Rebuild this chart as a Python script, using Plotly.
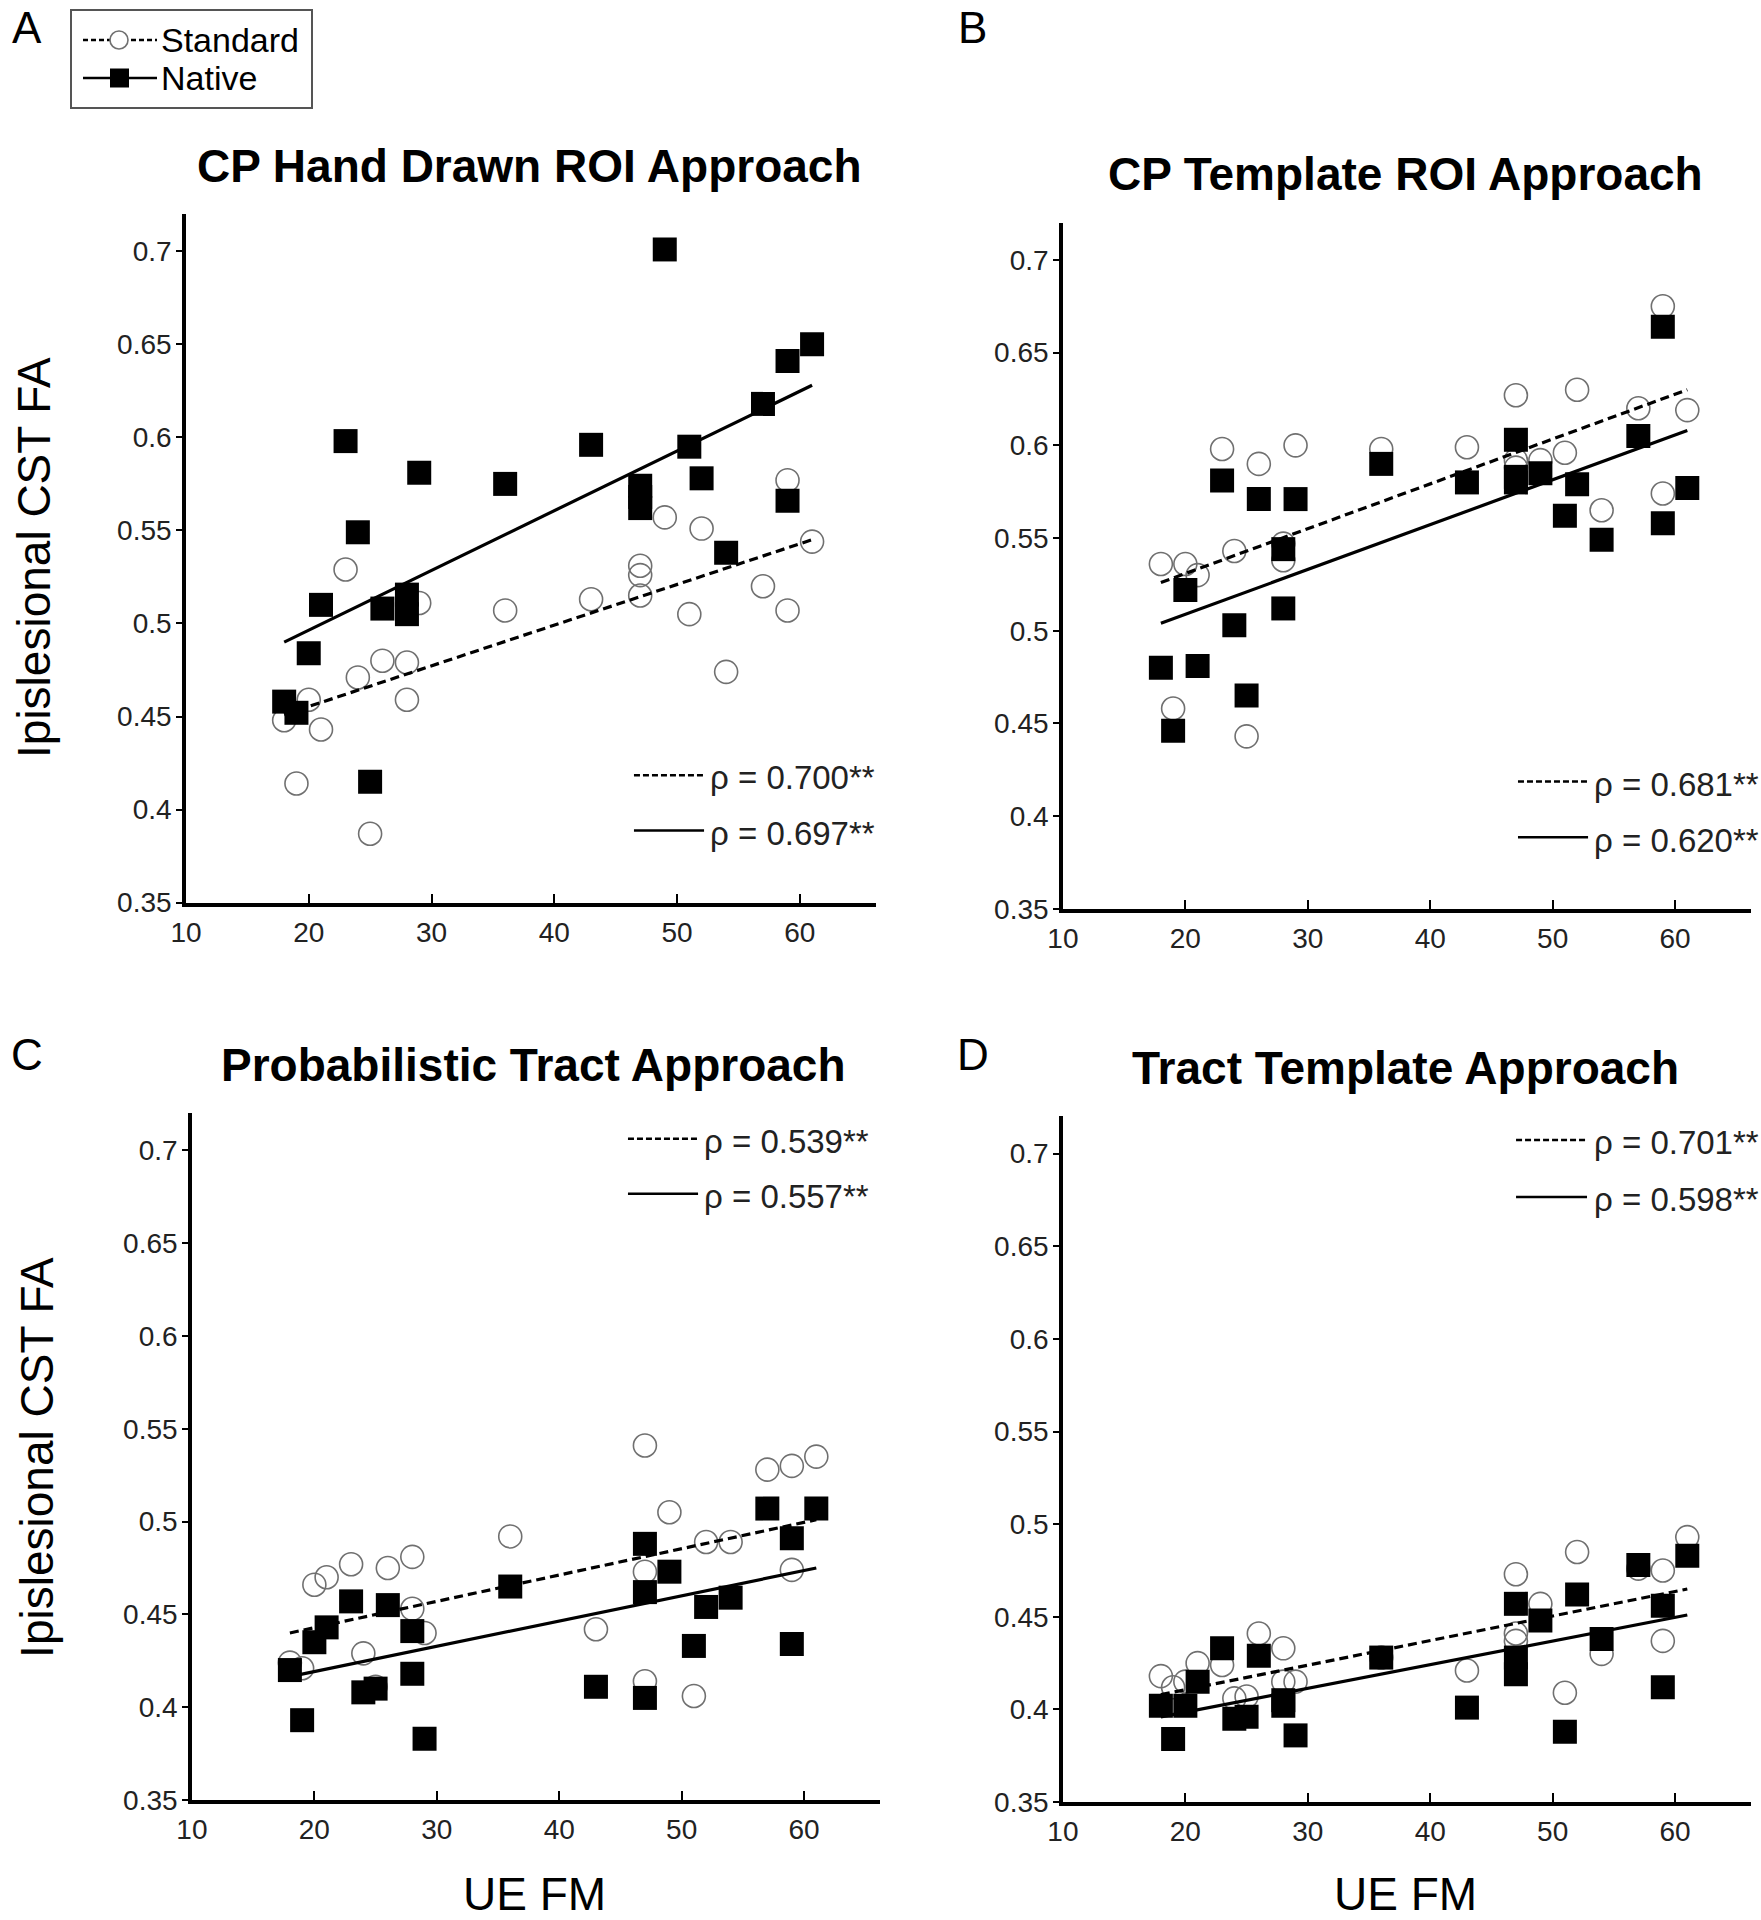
import plotly.graph_objects as go

# ---------------- data ----------------
UE_FM = [18, 19, 20, 21, 23, 24, 25, 26, 28, 28, 29, 36, 43, 47, 47, 47, 49, 51, 52, 54, 57, 59, 59, 61]

A_native = [0.458, 0.452, 0.484, 0.510, 0.598, 0.549, 0.415, 0.508, 0.5155, 0.505, 0.581, 0.575,
            0.596, 0.574, 0.568, 0.562, 0.701, 0.595, 0.578, 0.538, 0.618, 0.641, 0.566, 0.650]
A_standard = [0.448, 0.414, 0.459, 0.443, 0.529, 0.471, 0.387, 0.480, 0.479, 0.459, 0.511, 0.507,
              0.513, 0.531, 0.526, 0.515, 0.557, 0.505, 0.551, 0.474, 0.520, 0.577, 0.507, 0.544]

B_native = [0.480, 0.446, 0.522, 0.481, 0.581, 0.503, 0.465, 0.571, 0.544, 0.512, 0.571, 0.590,
            0.580, 0.603, 0.583, 0.580, 0.585, 0.562, 0.579, 0.549, 0.605, 0.664, 0.558, 0.577]
B_standard = [0.536, 0.458, 0.536, 0.530, 0.598, 0.543, 0.443, 0.590, 0.547, 0.538, 0.600, 0.598,
              0.599, 0.627, 0.592, 0.588, 0.592, 0.596, 0.630, 0.565, 0.620, 0.675, 0.574, 0.619]

C_native = [0.420, 0.393, 0.435, 0.443, 0.457, 0.408, 0.410, 0.455, 0.441, 0.418, 0.383, 0.465,
            0.411, 0.488, 0.462, 0.405, 0.473, 0.433, 0.454, 0.459, 0.507, 0.491, 0.434, 0.507]
C_standard = [0.424, 0.421, 0.466, 0.470, 0.477, 0.429, 0.411, 0.475, 0.481, 0.453, 0.440, 0.492,
              0.442, 0.541, 0.473, 0.414, 0.505, 0.406, 0.489, 0.489, 0.528, 0.530, 0.474, 0.535]

D_native = [0.402, 0.384, 0.402, 0.415, 0.433, 0.395, 0.396, 0.429, 0.402, 0.405, 0.386, 0.428,
            0.401, 0.457, 0.428, 0.419, 0.448, 0.388, 0.462, 0.438, 0.478, 0.456, 0.412, 0.483]
D_standard = [0.418, 0.412, 0.415, 0.425, 0.424, 0.406, 0.407, 0.441, 0.433, 0.415, 0.415, 0.428,
              0.421, 0.473, 0.441, 0.437, 0.457, 0.409, 0.485, 0.430, 0.476, 0.475, 0.437, 0.493]

# fitted regression lines (end points)
FIT_X = [18, 61]
A_fit_standard = [0.451, 0.545]
A_fit_native = [0.490, 0.628]
B_fit_standard = [0.526, 0.630]
B_fit_native = [0.504, 0.608]
C_fit_standard = [0.440, 0.501]
C_fit_native = [0.4165, 0.475]
D_fit_standard = [0.408, 0.465]
D_fit_native = [0.396, 0.451]

RHO_standard = ["0.700**", "0.681**", "0.539**", "0.701**"]
RHO_native = ["0.697**", "0.620**", "0.557**", "0.598**"]

SERIES_NAMES = ["Standard", "Native"]
PANEL_LETTERS = ["A", "B", "C", "D"]
PANEL_TITLES = ["CP Hand Drawn ROI Approach", "CP Template ROI Approach",
                "Probabilistic Tract Approach", "Tract Template Approach"]

X_TICKS = [10, 20, 30, 40, 50, 60]
X_TICKLABELS = ["10", "20", "30", "40", "50", "60"]
Y_TICKS = [0.35, 0.4, 0.45, 0.5, 0.55, 0.6, 0.65, 0.7]
Y_TICKLABELS = ["0.35", "0.4", "0.45", "0.5", "0.55", "0.6", "0.65", "0.7"]

Y_TITLE = "Ipislesional CST FA"
X_TITLE = "UE FM"

# ---------------- layout geometry ----------------
W, H = 1761, 1920
FONT = "Liberation Sans, Arial, sans-serif"
CIRCLE_GRAY = "#707070"


def px(xp):
    return xp / W


def py(yp):
    return 1 - yp / H


x_domains = [[0.1056, 0.4974], [0.6036, 0.9943], [0.1090, 0.4997], [0.6036, 0.9943]]
y_domains = [[0.5299, 0.8885], [0.5267, 0.8839], [0.0625, 0.4202], [0.0614, 0.4185]]

native_all = [A_native, B_native, C_native, D_native]
standard_all = [A_standard, B_standard, C_standard, D_standard]
fit_std_all = [A_fit_standard, B_fit_standard, C_fit_standard, D_fit_standard]
fit_nat_all = [A_fit_native, B_fit_native, C_fit_native, D_fit_native]

fig = go.Figure()

for i in range(4):
    xa = "x" if i == 0 else f"x{i+1}"
    ya = "y" if i == 0 else f"y{i+1}"
    fig.add_trace(go.Scatter(x=UE_FM, y=standard_all[i], mode="markers", xaxis=xa, yaxis=ya,
                             name=SERIES_NAMES[0],
                             marker=dict(symbol="circle-open", size=23, color=CIRCLE_GRAY,
                                         line=dict(width=1.6, color=CIRCLE_GRAY)),
                             showlegend=False))
    fig.add_trace(go.Scatter(x=FIT_X, y=fit_std_all[i], mode="lines", xaxis=xa, yaxis=ya,
                             line=dict(color="black", width=3.2, dash="9px,5px"),
                             showlegend=False))
    fig.add_trace(go.Scatter(x=FIT_X, y=fit_nat_all[i], mode="lines", xaxis=xa, yaxis=ya,
                             line=dict(color="black", width=3.2), showlegend=False))
    fig.add_trace(go.Scatter(x=UE_FM, y=native_all[i], mode="markers", xaxis=xa, yaxis=ya,
                             name=SERIES_NAMES[1],
                             marker=dict(symbol="square", size=24, color="black",
                                         line=dict(width=0)),
                             showlegend=False))

axis_common = dict(showline=True, linewidth=3.5, linecolor="black", showgrid=False,
                   zeroline=False, tickcolor="black", tickwidth=2, automargin=False,
                   tickfont=dict(family=FONT, size=28, color="#222222"))

layout_axes = {}
for i in range(4):
    sx = "xaxis" if i == 0 else f"xaxis{i+1}"
    sy = "yaxis" if i == 0 else f"yaxis{i+1}"
    layout_axes[sx] = dict(axis_common, domain=x_domains[i], range=[10, 66.2],
                           anchor="y" if i == 0 else f"y{i+1}",
                           tickmode="array", tickvals=X_TICKS, ticktext=X_TICKLABELS,
                           ticks="inside", ticklen=9, ticklabelstandoff=2)
    layout_axes[sy] = dict(axis_common, domain=y_domains[i], range=[0.35, 0.72],
                           anchor="x" if i == 0 else f"x{i+1}",
                           tickmode="array", tickvals=Y_TICKS, ticktext=Y_TICKLABELS,
                           ticks="outside", ticklen=6, ticklabelstandoff=-1)

annotations = []
shapes = []

title_pos = [(0.3004, 0.9133), (0.7984, 0.9094), (0.3032, 0.4453), (0.7984, 0.4438)]
letter_pos = [(0.0153, 0.9855), (0.5525, 0.9855), (0.0153, 0.4510), (0.5525, 0.4510)]
rho_line_x = [(0.3600, 0.3998), (0.8620, 0.9018), (0.3566, 0.3964), (0.8609, 0.9012)]
rho_text_x = [0.4020, 0.9040, 0.3986, 0.9040]
rho_y = [(0.5962, 0.5675), (0.5930, 0.5639), (0.4069, 0.3782), (0.4063, 0.3766)]

for i in range(4):
    annotations.append(dict(text=PANEL_TITLES[i], x=title_pos[i][0], y=title_pos[i][1],
                            xref="paper", yref="paper", showarrow=False,
                            xanchor="center", yanchor="middle",
                            font=dict(family=FONT, size=46, color="black", weight="bold")))
    annotations.append(dict(text=PANEL_LETTERS[i], x=letter_pos[i][0], y=letter_pos[i][1],
                            xref="paper", yref="paper", showarrow=False,
                            xanchor="center", yanchor="middle",
                            font=dict(family=FONT, size=44, color="black")))
    for k, (lab, dash) in enumerate([(RHO_standard[i], "6px,3px"), (RHO_native[i], "solid")]):
        yv = rho_y[i][k]
        shapes.append(dict(type="line", xref="paper", yref="paper",
                           x0=rho_line_x[i][0], x1=rho_line_x[i][1], y0=yv, y1=yv,
                           line=dict(color="black", width=2.5, dash=dash)))
        annotations.append(dict(text="ρ = " + lab, x=rho_text_x[i], y=yv - 0.0014,
                                xref="paper", yref="paper", showarrow=False,
                                xanchor="left", yanchor="middle",
                                font=dict(family=FONT, size=33, color="#222222")))

# axis titles
for (xp, yp) in [(0.0193, 0.7099), (0.0210, 0.2412)]:
    annotations.append(dict(text=Y_TITLE, x=xp, y=yp, xref="paper", yref="paper",
                            showarrow=False, textangle=-90, xanchor="center", yanchor="middle",
                            font=dict(family=FONT, size=46, color="black")))
for xp in [0.3038, 0.7984]:
    annotations.append(dict(text=X_TITLE, x=xp, y=0.0135, xref="paper", yref="paper",
                            showarrow=False, xanchor="center", yanchor="middle",
                            font=dict(family=FONT, size=46, color="black")))

# ---- legend box (top-left), drawn as a key in figure pixels ----
shapes.append(dict(type="rect", xref="paper", yref="paper",
                   x0=px(71), x1=px(312), y0=py(108), y1=py(10),
                   line=dict(color="#555555", width=2), fillcolor="white", layer="above"))
leg_rows = [40, 78]
for k, name in enumerate(SERIES_NAMES):
    yr = leg_rows[k]
    shapes.append(dict(type="line", xref="paper", yref="paper",
                       x0=px(83), x1=px(157), y0=py(yr), y1=py(yr), layer="above",
                       line=dict(color="black", width=2.5, dash="5px,3px" if k == 0 else "solid")))
    if k == 0:
        shapes.append(dict(type="circle", xref="paper", yref="paper",
                           x0=px(110), x1=px(128), y0=py(yr + 9), y1=py(yr - 9), layer="above",
                           line=dict(color=CIRCLE_GRAY, width=1.6), fillcolor="white"))
    else:
        shapes.append(dict(type="rect", xref="paper", yref="paper",
                           x0=px(110), x1=px(129), y0=py(yr + 9.5), y1=py(yr - 9.5), layer="above",
                           line=dict(width=0), fillcolor="black"))
    annotations.append(dict(text=name, x=px(159), y=py(yr), xref="paper", yref="paper",
                            showarrow=False, xanchor="left", yanchor="middle",
                            font=dict(family=FONT, size=34, color="black")))

fig.update_layout(
    width=W, height=H, autosize=False,
    margin=dict(l=0, r=0, t=0, b=0, pad=0, autoexpand=False),
    paper_bgcolor="white", plot_bgcolor="white",
    showlegend=False,
    annotations=annotations, shapes=shapes,
    **layout_axes,
)

fig.write_html("out.html", config={"displayModeBar": False},
               post_script="document.body.style.margin='0px';document.body.style.overflow='hidden';")
